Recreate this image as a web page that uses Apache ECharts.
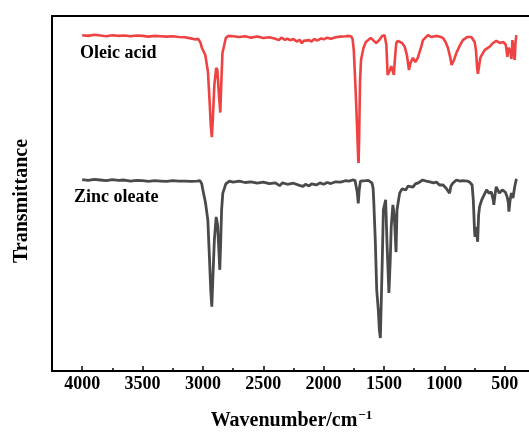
<!DOCTYPE html>
<html>
<head>
<meta charset="utf-8">
<script src="https://cdn.jsdelivr.net/npm/echarts@6/dist/echarts.min.js"></script>
<style>html,body{margin:0;padding:0;background:#fff;}#c{width:529px;height:432px;}</style>
</head>
<body>
<div id="c"></div>
<script>
// Wavenumber (cm^-1) / transmittance (arbitrary, offset) pairs
const oleicWn = [4000,3950,3900,3850,3800,3750,3700,3650,3600,3550,3500,3450,3400,3350,3300,3250,3200,3150,3100,3060,3040,3020,3008,2995,2980,2958,2945,2935,2926,2918,2905,2890,2880,2870,2856,2848,2838,2810,2790,2750,2700,2650,2600,2550,2500,2450,2400,2370,2350,2320,2300,2280,2250,2220,2200,2180,2165,2150,2120,2100,2080,2050,2020,2000,1970,1940,1900,1860,1820,1790,1770,1760,1750,1735,1722,1713,1710,1706,1698,1690,1670,1650,1638,1610,1590,1564,1540,1515,1495,1480,1470,1462,1450,1440,1430,1418,1410,1398,1385,1370,1350,1328,1310,1293,1280,1260,1240,1220,1205,1190,1177,1136,1110,1094,1060,1030,1011,990,970,950,940,934,920,900,870,846,810,776,760,749,738,728,722,714,702,690,666,640,620,597,570,556,540,528,510,490,478,470,455,444,436,425,417,410,403];
const oleicT  = [94.6,94.4,94.7,94.5,94.3,94.6,94.4,94.5,94.3,94.5,94.4,94.2,94.4,94.3,94.2,94.3,94.1,94.0,93.7,93.4,93.6,92.5,91.0,91.3,89.0,84.2,76.3,69.3,65.9,70.7,80.6,85.4,84.8,79.2,72.8,80.6,89.6,93.8,94.4,94.3,94.1,94.3,93.9,94.2,93.8,94.0,93.6,93.2,93.9,93.3,93.6,93.2,93.5,92.8,93.3,92.3,93.0,92.6,93.2,92.8,93.5,93.1,93.7,93.4,93.9,93.6,94.0,94.2,94.3,94.4,94.2,93.5,90.4,79.2,67.9,59.4,58.6,65.1,82.0,87.6,91.0,92.7,93.2,93.8,93.2,92.4,93.2,94.4,94.6,91.8,83.4,83.9,84.8,85.9,84.8,83.4,87.6,92.4,93.0,92.7,92.4,91.3,89.0,84.8,86.8,88.2,87.0,88.2,88.7,91.5,93.2,94.6,94.1,94.1,94.4,94.1,93.8,92.7,91.0,88.2,86.2,85.9,87.6,89.6,91.8,93.2,94.1,94.1,93.8,92.7,90.4,85.4,83.7,85.4,88.2,89.0,90.4,91.0,91.5,92.4,93.0,93.2,92.4,92.1,92.7,91.8,88.5,91.0,90.4,87.9,93.2,92.7,87.6,92.7,94.6];
const zincWn = [4000,3950,3900,3850,3800,3750,3700,3650,3600,3550,3500,3450,3400,3350,3300,3250,3200,3150,3100,3050,3025,3010,3000,2978,2959,2945,2935,2926,2918,2905,2890,2878,2868,2860,2852,2845,2835,2810,2780,2750,2700,2650,2600,2550,2500,2450,2400,2365,2340,2300,2250,2200,2170,2150,2120,2100,2060,2030,2000,1970,1940,1900,1860,1820,1790,1760,1740,1722,1713,1705,1695,1680,1650,1630,1600,1590,1585,1572,1560,1547,1538,1530,1522,1514,1505,1486,1475,1459,1448,1440,1426,1414,1400,1392,1370,1350,1342,1320,1300,1285,1260,1240,1215,1180,1150,1120,1090,1065,1040,1010,985,957,945,930,900,870,845,810,790,770,760,750,746,738,730,724,716,708,690,670,650,630,610,595,590,580,570,545,520,495,480,470,465,455,444,431,417,405,400];
const zincT  = [53.9,53.7,54.0,53.8,53.6,53.9,53.7,53.8,53.5,53.7,53.6,53.4,53.6,53.5,53.4,53.6,53.5,53.5,53.4,53.5,53.6,52.8,51.0,47.3,42.5,31.3,22.8,18.1,25.6,36.9,43.4,41.1,34.1,28.5,36.9,45.4,50.1,52.7,53.5,53.2,53.5,53.1,53.3,52.9,53.2,52.8,53.0,52.2,53.0,52.6,52.9,52.3,52.0,52.6,52.1,52.7,52.4,53.0,52.6,53.1,52.8,53.3,53.2,53.6,53.5,53.8,53.7,50.5,47.2,51.0,53.5,53.8,53.6,53.7,53.0,51.5,48.2,36.9,22.8,17.2,11.5,9.3,20.0,31.3,45.4,48.2,36.1,22.0,31.3,40.6,46.8,43.4,33.5,45.4,50.1,51.3,51.5,51.0,52.1,52.4,51.8,52.7,53.0,53.8,53.5,53.3,53.0,53.2,52.4,52.4,51.5,50.1,52.1,52.9,53.8,53.5,53.6,53.5,53.2,52.4,48.2,39.7,37.8,40.6,38.3,36.4,43.9,46.3,48.2,49.6,51.0,50.1,50.4,48.2,46.8,49.6,51.9,50.1,51.0,50.4,49.1,47.5,44.9,48.2,50.1,48.7,51.9,53.8,54.1];
const majorTicks = [500,1000,1500,2000,2500,3000,3500,4000];
const minorTicks = [750,1250,1750,2250,2750,3250,3750];
const seriesNames = ['Oleic acid','Zinc oleate'];
const xTitle = 'Wavenumber/cm';
const xTitleSup = '\u22121';
const yTitle = 'Transmittance';

const FONT = '"Liberation Serif","Times New Roman",serif';
const pair = (a,b)=>a.map((v,i)=>[v,b[i]]);
const chart = echarts.init(document.getElementById('c'), null, {renderer:'canvas'});
chart.setOption({
  animation:false,
  backgroundColor:'#fff',
  grid:{left:52, right:-2, top:16, bottom:61, show:true, borderColor:'#000', borderWidth:2, backgroundColor:'transparent',
        containLabel:false, outerBoundsMode:'none'},
  xAxis:[{
    type:'value', inverse:true, min:282, max:4250,
    axisLine:{show:true, lineStyle:{color:'#000', width:2}},
    axisTick:{show:true, inside:true, length:5, customValues:majorTicks, lineStyle:{color:'#000', width:1.5}},
    axisLabel:{show:true, customValues:majorTicks, margin:4, color:'#000', fontFamily:FONT, fontWeight:'bold', fontSize:18,
      formatter:(v)=>String(v)},
    splitLine:{show:false},
    name:'{a|'+xTitle+'}{b|'+xTitleSup+'}',
    nameLocation:'middle', nameGap:38,
    nameTextStyle:{rich:{
      a:{fontFamily:FONT, fontWeight:'bold', fontSize:20, color:'#000', lineHeight:22, verticalAlign:'bottom'},
      b:{fontFamily:FONT, fontWeight:'bold', fontSize:13, color:'#000', lineHeight:22, verticalAlign:'top', padding:[0,0,0,1]}
    }}
  },{
    type:'value', inverse:true, min:282, max:4250, position:'bottom',
    axisLine:{show:false},
    axisTick:{show:true, inside:true, length:3, customValues:minorTicks, lineStyle:{color:'#000', width:1.5}},
    axisLabel:{show:true, customValues:minorTicks, formatter:()=>'', color:'transparent'},
    splitLine:{show:false}
  }],
  yAxis:{
    type:'value', min:0, max:100,
    axisLine:{show:false}, axisTick:{show:false}, axisLabel:{show:false}, splitLine:{show:false}
  },
  graphic:[
    {type:'text', left:80, top:44, style:{text:seriesNames[0], font:'bold 18px '+FONT, fill:'#000'}},
    {type:'text', left:74, top:188, style:{text:seriesNames[1], font:'bold 18px '+FONT, fill:'#000'}},
    {type:'text', x:22, y:201, rotation:Math.PI/2,
     style:{text:yTitle, font:'bold 20px '+FONT, fill:'#000', align:'center', verticalAlign:'middle'}}
  ],
  series:[
    {name:seriesNames[0], type:'line', data:pair(oleicWn, oleicT), showSymbol:false, smooth:false,
     lineStyle:{color:'#ef4242', width:2.6}, itemStyle:{color:'#ef4242'}},
    {name:seriesNames[1], type:'line', data:pair(zincWn, zincT), showSymbol:false, smooth:false,
     lineStyle:{color:'#4a4a4a', width:2.8}, itemStyle:{color:'#4a4a4a'}}
  ]
});
</script>
</body>
</html>
